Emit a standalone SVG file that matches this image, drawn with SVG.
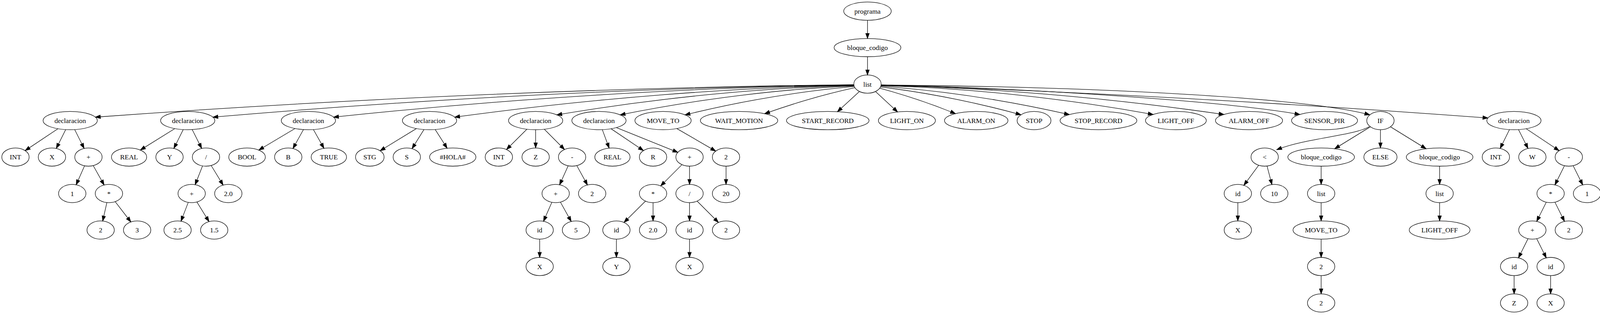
<svg xmlns="http://www.w3.org/2000/svg" width="4217" height="827" viewBox="0 0 4217 827">
<style>
.node ellipse{fill:#fff;stroke:#000;stroke-width:1.33}
.node text{font-family:"Liberation Serif","Times New Roman",serif;font-size:18px;text-anchor:middle;fill:#000}
.edges path{fill:none;stroke:#000;stroke-width:1.33;marker-end:url(#ah)}
</style>
<defs>
<marker id="ah" markerUnits="userSpaceOnUse" viewBox="0 0 14 10" markerWidth="14" markerHeight="10" refX="13.3" refY="5" orient="auto" style="overflow:visible">
<path d="M0,0.33 L13.3,5 L0,9.67 Z" fill="#000" stroke="#000" stroke-width="1.2"/>
</marker>
</defs>
<rect width="4217" height="827" fill="#fff"/>
<g id="diagram" transform="scale(0.973)">
<g id="nodes">
<g id="programa" class="node"><ellipse cx="2282.4" cy="29.3" rx="62.5" ry="24"/><text x="2282.4" y="35.8">programa</text></g>
<g id="bc0" class="node"><ellipse cx="2282.4" cy="125.3" rx="87.8" ry="24"/><text x="2282.4" y="131.8">bloque_codigo</text></g>
<g id="list0" class="node"><ellipse cx="2282.4" cy="221.3" rx="36" ry="24"/><text x="2282.4" y="227.8">list</text></g>

<g id="d1" class="node"><ellipse cx="184.7" cy="317.3" rx="71.3" ry="24"/><text x="184.7" y="323.8">declaracion</text></g>
<g id="d2" class="node"><ellipse cx="493.9" cy="317.3" rx="71.3" ry="24"/><text x="493.9" y="323.8">declaracion</text></g>
<g id="d3" class="node"><ellipse cx="811.4" cy="317.3" rx="71.3" ry="24"/><text x="811.4" y="323.8">declaracion</text></g>
<g id="d4" class="node"><ellipse cx="1130.1" cy="317.3" rx="71.3" ry="24"/><text x="1130.1" y="323.8">declaracion</text></g>
<g id="d5" class="node"><ellipse cx="1409.3" cy="317.3" rx="71.3" ry="24"/><text x="1409.3" y="323.8">declaracion</text></g>
<g id="d6" class="node"><ellipse cx="1575.9" cy="317.3" rx="71.3" ry="24"/><text x="1575.9" y="323.8">declaracion</text></g>
<g id="mv1" class="node"><ellipse cx="1744.5" cy="317.3" rx="74" ry="24"/><text x="1744.5" y="323.8">MOVE_TO</text></g>
<g id="wm" class="node"><ellipse cx="1944.5" cy="317.3" rx="101.8" ry="24"/><text x="1944.5" y="323.8">WAIT_MOTION</text></g>
<g id="sr" class="node"><ellipse cx="2177.9" cy="317.3" rx="108.6" ry="24"/><text x="2177.9" y="323.8">START_RECORD</text></g>
<g id="lon" class="node"><ellipse cx="2386.1" cy="317.3" rx="75" ry="24"/><text x="2386.1" y="323.8">LIGHT_ON</text></g>
<g id="aon" class="node"><ellipse cx="2568.5" cy="317.3" rx="83.5" ry="24"/><text x="2568.5" y="323.8">ALARM_ON</text></g>
<g id="stop" class="node"><ellipse cx="2720.6" cy="317.3" rx="44.6" ry="24"/><text x="2720.6" y="323.8">STOP</text></g>
<g id="srec" class="node"><ellipse cx="2890.1" cy="317.3" rx="101" ry="24"/><text x="2890.1" y="323.8">STOP_RECORD</text></g>
<g id="loff1" class="node"><ellipse cx="3093.8" cy="317.3" rx="80" ry="24"/><text x="3093.8" y="323.8">LIGHT_OFF</text></g>
<g id="aoff" class="node"><ellipse cx="3286.2" cy="317.3" rx="88.3" ry="24"/><text x="3286.2" y="323.8">ALARM_OFF</text></g>
<g id="spir" class="node"><ellipse cx="3484.9" cy="317.3" rx="86.8" ry="24"/><text x="3484.9" y="323.8">SENSOR_PIR</text></g>
<g id="if" class="node"><ellipse cx="3632" cy="317.3" rx="36" ry="24"/><text x="3632" y="323.8">IF</text></g>
<g id="d7" class="node"><ellipse cx="3983.2" cy="317.3" rx="71.3" ry="24"/><text x="3983.2" y="323.8">declaracion</text></g>

<g id="int1" class="node"><ellipse cx="40.7" cy="413.3" rx="36" ry="24"/><text x="40.7" y="419.8">INT</text></g>
<g id="x1" class="node"><ellipse cx="136.7" cy="413.3" rx="36" ry="24"/><text x="136.7" y="419.8">X</text></g>
<g id="plus1" class="node"><ellipse cx="232.7" cy="413.3" rx="36" ry="24"/><text x="232.7" y="419.8">+</text></g>
<g id="real1" class="node"><ellipse cx="339.6" cy="413.3" rx="46.4" ry="24"/><text x="339.6" y="419.8">REAL</text></g>
<g id="y1" class="node"><ellipse cx="446" cy="413.3" rx="36" ry="24"/><text x="446" y="419.8">Y</text></g>
<g id="div1" class="node"><ellipse cx="542" cy="413.3" rx="36" ry="24"/><text x="542" y="419.8">/</text></g>
<g id="bool" class="node"><ellipse cx="650" cy="413.3" rx="48.2" ry="24"/><text x="650" y="419.8">BOOL</text></g>
<g id="b" class="node"><ellipse cx="758.4" cy="413.3" rx="36" ry="24"/><text x="758.4" y="419.8">B</text></g>
<g id="true" class="node"><ellipse cx="865.2" cy="413.3" rx="46.6" ry="24"/><text x="865.2" y="419.8">TRUE</text></g>
<g id="stg" class="node"><ellipse cx="973" cy="413.3" rx="37.6" ry="24"/><text x="973" y="419.8">STG</text></g>
<g id="s" class="node"><ellipse cx="1070.3" cy="413.3" rx="36" ry="24"/><text x="1070.3" y="419.8">S</text></g>
<g id="hola" class="node"><ellipse cx="1191.2" cy="413.3" rx="60.9" ry="24"/><text x="1191.2" y="419.8">#HOLA#</text></g>
<g id="int2" class="node"><ellipse cx="1312.5" cy="413.3" rx="36" ry="24"/><text x="1312.5" y="419.8">INT</text></g>
<g id="z1" class="node"><ellipse cx="1409.3" cy="413.3" rx="36" ry="24"/><text x="1409.3" y="419.8">Z</text></g>
<g id="minus1" class="node"><ellipse cx="1505.2" cy="413.3" rx="36" ry="24"/><text x="1505.2" y="419.8">-</text></g>
<g id="real2" class="node"><ellipse cx="1611.4" cy="413.3" rx="46.4" ry="24"/><text x="1611.4" y="419.8">REAL</text></g>
<g id="r" class="node"><ellipse cx="1718.2" cy="413.3" rx="36" ry="24"/><text x="1718.2" y="419.8">R</text></g>
<g id="plus2" class="node"><ellipse cx="1814.2" cy="413.3" rx="36" ry="24"/><text x="1814.2" y="419.8">+</text></g>
<g id="two1" class="node"><ellipse cx="1910.2" cy="413.3" rx="36" ry="24"/><text x="1910.2" y="419.8">2</text></g>
<g id="lt" class="node"><ellipse cx="3327.4" cy="413.3" rx="36" ry="24"/><text x="3327.4" y="419.8">&lt;</text></g>
<g id="bc1" class="node"><ellipse cx="3476" cy="413.3" rx="87.6" ry="24"/><text x="3476" y="419.8">bloque_codigo</text></g>
<g id="else" class="node"><ellipse cx="3632" cy="413.3" rx="43.7" ry="24"/><text x="3632" y="419.8">ELSE</text></g>
<g id="bc2" class="node"><ellipse cx="3787.7" cy="413.3" rx="87.6" ry="24"/><text x="3787.7" y="419.8">bloque_codigo</text></g>
<g id="int3" class="node"><ellipse cx="3935.7" cy="413.3" rx="36" ry="24"/><text x="3935.7" y="419.8">INT</text></g>
<g id="w" class="node"><ellipse cx="4031.7" cy="413.3" rx="36" ry="24"/><text x="4031.7" y="419.8">W</text></g>
<g id="minus2" class="node"><ellipse cx="4127.6" cy="413.3" rx="36" ry="24"/><text x="4127.6" y="419.8">-</text></g>

<g id="one1" class="node"><ellipse cx="190.1" cy="509.3" rx="36" ry="24"/><text x="190.1" y="515.8">1</text></g>
<g id="mul1" class="node"><ellipse cx="286.6" cy="509.3" rx="36" ry="24"/><text x="286.6" y="515.8">*</text></g>
<g id="plus3" class="node"><ellipse cx="504.3" cy="509.3" rx="36" ry="24"/><text x="504.3" y="515.8">+</text></g>
<g id="f20a" class="node"><ellipse cx="600.7" cy="509.3" rx="36" ry="24"/><text x="600.7" y="515.8">2.0</text></g>
<g id="plus4" class="node"><ellipse cx="1462" cy="509.3" rx="36" ry="24"/><text x="1462" y="515.8">+</text></g>
<g id="two2" class="node"><ellipse cx="1558" cy="509.3" rx="36" ry="24"/><text x="1558" y="515.8">2</text></g>
<g id="mul2" class="node"><ellipse cx="1718.2" cy="509.3" rx="36" ry="24"/><text x="1718.2" y="515.8">*</text></g>
<g id="div2" class="node"><ellipse cx="1814.2" cy="509.3" rx="36" ry="24"/><text x="1814.2" y="515.8">/</text></g>
<g id="n20" class="node"><ellipse cx="1910.2" cy="509.3" rx="36" ry="24"/><text x="1910.2" y="515.8">20</text></g>
<g id="id1" class="node"><ellipse cx="3256.8" cy="509.3" rx="36" ry="24"/><text x="3256.8" y="515.8">id</text></g>
<g id="ten" class="node"><ellipse cx="3352.7" cy="509.3" rx="36" ry="24"/><text x="3352.7" y="515.8">10</text></g>
<g id="list1" class="node"><ellipse cx="3476" cy="509.3" rx="36" ry="24"/><text x="3476" y="515.8">list</text></g>
<g id="list2" class="node"><ellipse cx="3787.7" cy="509.3" rx="36" ry="24"/><text x="3787.7" y="515.8">list</text></g>
<g id="mul3" class="node"><ellipse cx="4079.7" cy="509.3" rx="36" ry="24"/><text x="4079.7" y="515.8">*</text></g>
<g id="one2" class="node"><ellipse cx="4175.6" cy="509.3" rx="36" ry="24"/><text x="4175.6" y="515.8">1</text></g>

<g id="two3" class="node"><ellipse cx="264.8" cy="605.3" rx="36" ry="24"/><text x="264.8" y="611.8">2</text></g>
<g id="three" class="node"><ellipse cx="360.8" cy="605.3" rx="36" ry="24"/><text x="360.8" y="611.8">3</text></g>
<g id="f25" class="node"><ellipse cx="467.2" cy="605.3" rx="36" ry="24"/><text x="467.2" y="611.8">2.5</text></g>
<g id="f15" class="node"><ellipse cx="563.6" cy="605.3" rx="36" ry="24"/><text x="563.6" y="611.8">1.5</text></g>
<g id="id2" class="node"><ellipse cx="1419.9" cy="605.3" rx="36" ry="24"/><text x="1419.9" y="611.8">id</text></g>
<g id="five" class="node"><ellipse cx="1515.4" cy="605.3" rx="36" ry="24"/><text x="1515.4" y="611.8">5</text></g>
<g id="id3" class="node"><ellipse cx="1621.8" cy="605.3" rx="36" ry="24"/><text x="1621.8" y="611.8">id</text></g>
<g id="f20b" class="node"><ellipse cx="1718.2" cy="605.3" rx="36" ry="24"/><text x="1718.2" y="611.8">2.0</text></g>
<g id="id4" class="node"><ellipse cx="1814.2" cy="605.3" rx="36" ry="24"/><text x="1814.2" y="611.8">id</text></g>
<g id="two4" class="node"><ellipse cx="1910.2" cy="605.3" rx="36" ry="24"/><text x="1910.2" y="611.8">2</text></g>
<g id="x2" class="node"><ellipse cx="3256.8" cy="605.3" rx="36" ry="24"/><text x="3256.8" y="611.8">X</text></g>
<g id="mv2" class="node"><ellipse cx="3476" cy="605.3" rx="74" ry="24"/><text x="3476" y="611.8">MOVE_TO</text></g>
<g id="loff2" class="node"><ellipse cx="3787.7" cy="605.3" rx="80" ry="24"/><text x="3787.7" y="611.8">LIGHT_OFF</text></g>
<g id="plus5" class="node"><ellipse cx="4031.7" cy="605.3" rx="36" ry="24"/><text x="4031.7" y="611.8">+</text></g>
<g id="two5" class="node"><ellipse cx="4127.6" cy="605.3" rx="36" ry="24"/><text x="4127.6" y="611.8">2</text></g>

<g id="x3" class="node"><ellipse cx="1419.9" cy="701.3" rx="36" ry="24"/><text x="1419.9" y="707.8">X</text></g>
<g id="y2" class="node"><ellipse cx="1621.8" cy="701.3" rx="36" ry="24"/><text x="1621.8" y="707.8">Y</text></g>
<g id="x4" class="node"><ellipse cx="1814.2" cy="701.3" rx="36" ry="24"/><text x="1814.2" y="707.8">X</text></g>
<g id="two6" class="node"><ellipse cx="3476" cy="701.3" rx="36" ry="24"/><text x="3476" y="707.8">2</text></g>
<g id="id5" class="node"><ellipse cx="3983.7" cy="701.3" rx="36" ry="24"/><text x="3983.7" y="707.8">id</text></g>
<g id="id6" class="node"><ellipse cx="4079.7" cy="701.3" rx="36" ry="24"/><text x="4079.7" y="707.8">id</text></g>

<g id="two7" class="node"><ellipse cx="3476" cy="797.3" rx="36" ry="24"/><text x="3476" y="803.8">2</text></g>
<g id="z2" class="node"><ellipse cx="3983.7" cy="797.3" rx="36" ry="24"/><text x="3983.7" y="803.8">Z</text></g>
<g id="x5" class="node"><ellipse cx="4079.7" cy="797.3" rx="36" ry="24"/><text x="4079.7" y="803.8">X</text></g>
</g>

<g id="edges" class="edges">
<path d="M2282.4,53.3 L2282.4,101.3"/>
<path d="M2282.4,149.3 L2282.4,197.3"/>

<path d="M2246.5,222.9 C1647.8,228.9 949.3,257.1 250.8,308.3"/>
<path d="M2246.5,223.2 C1740.5,229.2 1150.3,257.2 560.0,308.3"/>
<path d="M2246.6,223.6 C1835.9,229.5 1356.7,257.5 877.5,308.3"/>
<path d="M2246.7,224.3 C1931.5,230.2 1563.9,257.9 1196.2,308.3"/>
<path d="M2246.9,225.2 C2012.3,230.6 1738.7,256.0 1465.0,302.3"/>
<path d="M2247.1,226.1 C2059.9,233.8 1845.8,259.1 1631.6,302.3"/>
<path d="M2247.6,227.5 C2108.6,239.9 1955.5,264.7 1802.3,302.3"/>
<path d="M2249.3,230.7 C2172.8,247.5 2092.3,270.2 2011.8,299.3"/>
<path d="M2261.2,240.7 L2203.3,294.0"/>
<path d="M2303.4,240.8 L2361.6,294.6"/>
<path d="M2314.6,232.1 C2379.2,249.4 2446.6,271.7 2514.0,299.1"/>
<path d="M2316.6,228.8 C2433.3,243.0 2559.7,267.3 2686.2,302.0"/>
<path d="M2317.4,226.8 C2471.1,237.7 2642.3,262.5 2813.6,301.6"/>
<path d="M2317.8,225.5 C2532.7,230.8 2783.5,255.8 3034.2,301.3"/>
<path d="M2318.0,224.7 C2588.7,230.1 2904.6,255.3 3220.4,301.3"/>
<path d="M2318.2,224.2 C2648.8,229.6 3199.8,262.7 3420.2,301.3"/>
<path d="M2318.2,223.8 C2900,228 3440,258 3604.0,302.2"/>
<path d="M2318.3,223.3 C2823.9,240.9 3369.3,269.8 3914.8,310.5"/>

<path d="M152.6,338.7 L66.2,396.3"/>
<path d="M172.9,341.0 L148.1,390.5"/>
<path d="M196.5,341.0 L221.3,390.5"/>
<path d="M222.5,436.3 L200.3,486.3"/>
<path d="M245.3,435.8 L274.0,486.8"/>
<path d="M281.2,533.0 L270.2,581.6"/>
<path d="M303.1,530.6 L344.3,584.0"/>

<path d="M460.0,338.4 L369.3,394.8"/>
<path d="M482.1,341.0 L457.4,390.5"/>
<path d="M505.7,341.0 L530.6,390.5"/>
<path d="M532.9,436.5 L513.4,486.1"/>
<path d="M555.6,435.5 L587.1,487.1"/>
<path d="M495.3,532.5 L476.2,582.1"/>
<path d="M518.0,531.5 L549.9,583.1"/>

<path d="M776.3,338.2 L680.9,394.9"/>
<path d="M798.4,340.9 L770.8,390.8"/>
<path d="M824.6,340.9 L852.3,390.2"/>

<path d="M1095.7,338.3 L1000.2,396.7"/>
<path d="M1115.5,340.8 L1084.1,391.1"/>
<path d="M1145.0,340.8 L1176.4,390.0"/>

<path d="M1386.4,340.0 L1332.6,393.4"/>
<path d="M1409.3,341.3 L1409.3,389.3"/>
<path d="M1432.0,340.0 L1485.2,393.3"/>
<path d="M1494.9,436.3 L1472.3,486.3"/>
<path d="M1517.6,435.8 L1545.6,486.8"/>
<path d="M1451.9,532.3 L1430.0,582.3"/>
<path d="M1474.5,531.8 L1502.9,582.8"/>
<path d="M1419.9,629.3 L1419.9,677.3"/>

<path d="M1584.7,341.1 L1602.7,389.7"/>
<path d="M1607.7,338.8 L1692.9,396.2"/>
<path d="M1621.6,335.7 L1783.4,400.9"/>
<path d="M1794.2,433.3 L1738.2,489.3"/>
<path d="M1814.2,437.3 L1814.2,485.3"/>
<path d="M1698.2,529.3 L1641.8,585.3"/>
<path d="M1718.2,533.3 L1718.2,581.3"/>
<path d="M1814.2,533.3 L1814.2,581.3"/>
<path d="M1834.2,529.3 L1890.2,585.3"/>
<path d="M1621.8,629.3 L1621.8,677.3"/>
<path d="M1814.2,629.3 L1814.2,677.3"/>

<path d="M1780.6,338.2 L1883.0,397.6"/>
<path d="M1910.2,437.3 L1910.2,485.3"/>

<path d="M3602.4,333.3 C3560,358 3440,362 3359.0,394.0"/>
<path d="M3605.5,333.6 L3511.6,391.4"/>
<path d="M3632,341.3 L3632,389.3"/>
<path d="M3658.4,333.6 L3752.1,391.4"/>
<path d="M3311.6,434.9 L3272.6,487.7"/>
<path d="M3333.6,436.9 L3346.5,485.7"/>
<path d="M3256.8,533.3 L3256.8,581.3"/>
<path d="M3476,437.3 L3476,485.3"/>
<path d="M3476,533.3 L3476,581.3"/>
<path d="M3476,629.3 L3476,677.3"/>
<path d="M3476,725.3 L3476,773.3"/>
<path d="M3787.7,437.3 L3787.7,485.3"/>
<path d="M3787.7,533.3 L3787.7,581.3"/>

<path d="M3971.5,341.0 L3947.0,390.5"/>
<path d="M3995.2,341.0 L4020.2,390.5"/>
<path d="M4015.4,338.7 L4102.1,396.4"/>
<path d="M4116.2,436.1 L4091.1,486.5"/>
<path d="M4139.0,436.1 L4164.2,486.5"/>
<path d="M4068.3,532.1 L4043.1,582.5"/>
<path d="M4091.1,532.1 L4116.2,582.5"/>
<path d="M4020.3,628.1 L3995.1,678.5"/>
<path d="M4043.1,628.1 L4068.3,678.5"/>
<path d="M3983.7,725.3 L3983.7,773.3"/>
<path d="M4079.7,725.3 L4079.7,773.3"/>
</g>
</g>
</svg>
